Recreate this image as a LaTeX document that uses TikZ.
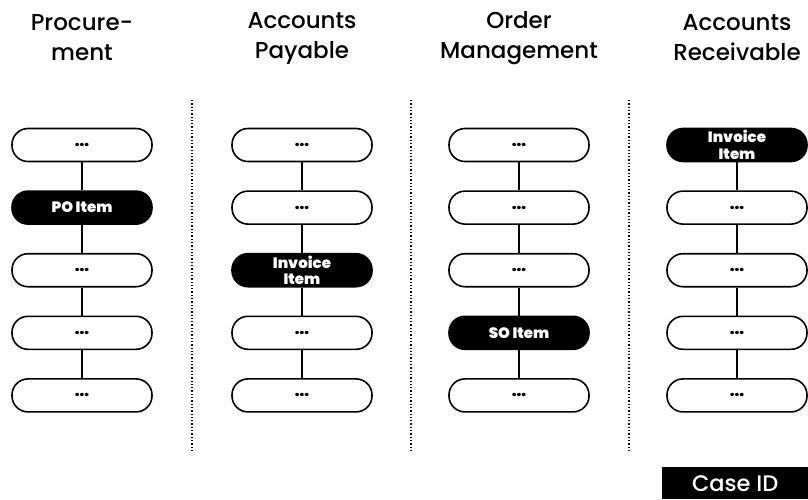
\documentclass[tikz,border=0pt]{standalone}
\usepackage{fontspec}
\setmainfont{Poppins}
\newfontfamily\headfont{Poppins Medium}
\newfontfamily\keyfont{Poppins Black}
\usetikzlibrary{positioning}

\begin{document}
\begin{tikzpicture}[x=1pt,y=1pt,node distance=28pt,
    item/.style={draw,line width=1.6pt,rounded corners=16pt,minimum width=140pt,
      minimum height=33pt,inner sep=0pt,align=center,
      font=\keyfont\fontsize{15}{16.5}\selectfont},
    key/.style={item,fill=black,text=white},
    head/.style={align=center,font=\headfont\fontsize{23}{30}\selectfont},
    link/.style={line width=1.6pt},
    split/.style={dotted,line width=1.3pt}]
      \useasboundingbox (0,0) rectangle (808,-499);

      % headings
      \node[head] (hP) at (82,-38)  {Procure-\\ment};
      \node[head] (hA) at (302,-38) {Accounts\\Payable};
      \node[head] (hO) at (519,-38) {Order\\Management};
      \node[head] (hR) at (737,-38) {Accounts\\Receivable};

      % procurement
      \node[item] (P1) at (82,-145) {...};
      \node[key]  (P2) [below=of P1] {PO Item};
      \node[item] (P3) [below=of P2] {...};
      \node[item] (P4) [below=of P3] {...};
      \node[item] (P5) [below=of P4] {...};

      % accounts payable
      \node[item] (A1) at (302,-145) {...};
      \node[item] (A2) [below=of A1] {...};
      \node[key]  (A3) [below=of A2] {Invoice\\Item};
      \node[item] (A4) [below=of A3] {...};
      \node[item] (A5) [below=of A4] {...};

      % order management
      \node[item] (O1) at (519,-145) {...};
      \node[item] (O2) [below=of O1] {...};
      \node[item] (O3) [below=of O2] {...};
      \node[key]  (O4) [below=of O3] {SO Item};
      \node[item] (O5) [below=of O4] {...};

      % accounts receivable
      \node[key]  (R1) at (737,-145) {Invoice\\Item};
      \node[item] (R2) [below=of R1] {...};
      \node[item] (R3) [below=of R2] {...};
      \node[item] (R4) [below=of R3] {...};
      \node[item] (R5) [below=of R4] {...};

      \path[link] (P1) edge (P2)  (P2) edge (P3)  (P3) edge (P4)  (P4) edge (P5)
                  (A1) edge (A2)  (A2) edge (A3)  (A3) edge (A4)  (A4) edge (A5)
                  (O1) edge (O2)  (O2) edge (O3)  (O3) edge (O4)  (O4) edge (O5)
                  (R1) edge (R2)  (R2) edge (R3)  (R3) edge (R4)  (R4) edge (R5);

      % separators
      \foreach \x in {192,411,629}
        \draw[split] (\x,-100) -- (\x,-452);

      \node[fill=black,text=white,minimum width=146pt,minimum height=32pt,
        inner sep=0pt,anchor=north west,font=\headfont\fontsize{22.5}{22.5}\selectfont]
        (case) at (662,-467) {\raisebox{-3pt}{Case ID}};
\end{tikzpicture}
\end{document}
